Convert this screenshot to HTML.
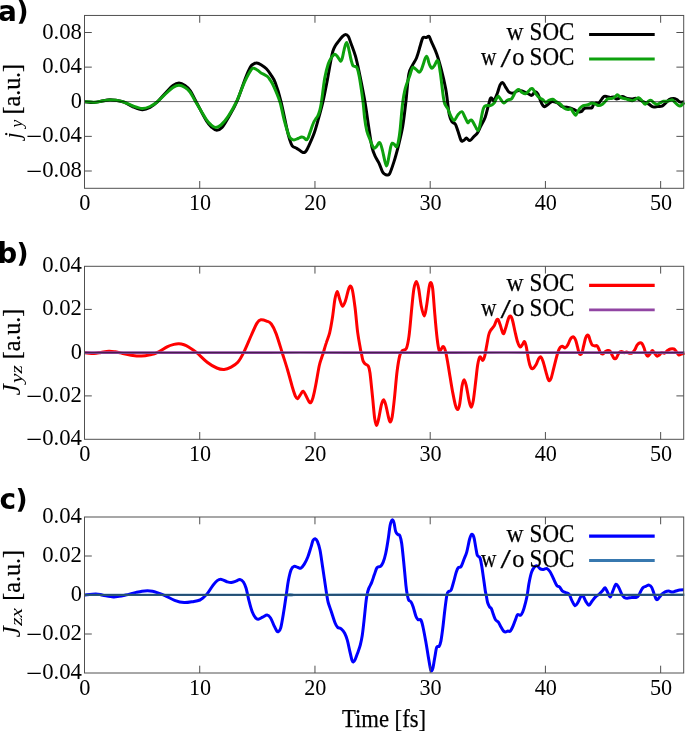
<!DOCTYPE html>
<html><head><meta charset="utf-8"><title>figure</title>
<style>
html,body{margin:0;padding:0;background:#fff;}
body{width:685px;height:731px;overflow:hidden;}
svg{display:block;font-family:"Liberation Serif","DejaVu Serif",serif;fill:#000;}
</style></head><body>
<svg width="685" height="731" viewBox="0 0 685 731">
<rect width="685" height="731" fill="#fff"/>
<g>
<clipPath id="cp1"><rect x="83.0" y="15.4" width="602.2" height="172.9"/></clipPath>
<g clip-path="url(#cp1)" fill="none" stroke-linejoin="round" stroke-linecap="butt">
<path d="M85.0 101.7C86.5 101.8 91.3 102.5 94.0 102.4C96.7 102.3 98.4 101.8 101.0 101.3C103.6 100.8 107.1 99.8 109.8 99.7C112.5 99.6 114.7 100.1 117.0 100.5C119.3 100.9 121.1 101.2 123.8 102.2C126.5 103.2 129.9 105.5 133.0 106.8C136.1 108.1 139.6 109.7 142.4 109.8C145.2 109.9 147.5 108.8 150.0 107.5C152.5 106.2 154.6 104.5 157.3 102.0C160.0 99.5 163.4 95.2 166.0 92.5C168.6 89.8 170.8 87.1 173.0 85.5C175.2 83.9 177.0 83.1 179.0 83.1C181.0 83.1 183.1 84.2 185.0 85.5C186.9 86.8 188.7 88.3 190.5 91.0C192.3 93.7 193.3 96.5 196.0 101.5C198.7 106.5 203.8 116.7 206.5 121.0C209.2 125.3 210.3 126.0 212.0 127.5C213.7 129.1 215.0 130.3 216.7 130.3C218.4 130.3 219.9 129.8 222.0 127.5C224.1 125.2 226.5 120.7 229.0 116.4C231.5 112.1 234.2 107.9 236.9 101.5C239.7 95.1 243.2 83.8 245.5 78.0C247.8 72.2 249.1 69.3 250.4 67.0C251.7 64.7 252.4 64.7 253.5 64.0C254.6 63.4 255.4 63.0 256.7 63.1C257.9 63.2 259.4 63.8 261.0 64.7C262.6 65.7 264.7 67.1 266.4 68.8C268.1 70.5 269.5 72.7 271.0 75.0C272.5 77.3 273.6 78.3 275.3 82.7C277.0 87.1 279.1 93.8 281.0 101.5C282.9 109.2 285.5 122.7 286.9 128.9C288.3 135.2 288.6 136.2 289.5 139.0C290.4 141.8 291.0 144.2 292.2 145.8C293.4 147.4 295.4 147.6 296.7 148.4C298.0 149.2 299.1 149.9 300.0 150.5C300.9 151.1 301.4 151.7 302.0 152.0C302.6 152.3 303.1 152.6 303.6 152.6C304.1 152.6 304.7 152.4 305.2 152.0C305.7 151.6 306.1 151.1 306.6 150.2C307.1 149.3 307.1 149.6 308.4 146.7C309.7 143.8 312.6 137.5 314.3 132.7C316.0 127.9 317.2 123.0 318.7 117.8C320.1 112.6 321.6 107.9 323.0 101.5C324.4 95.1 326.2 85.8 327.4 79.6C328.6 73.3 329.3 68.7 330.2 64.0C331.1 59.3 332.0 54.3 332.9 51.2C333.8 48.1 334.6 47.1 335.4 45.6C336.2 44.1 336.8 43.7 337.9 42.2C339.0 40.7 341.0 37.9 342.3 36.6C343.6 35.3 344.5 34.5 345.5 34.5C346.5 34.5 347.5 35.1 348.4 36.6C349.3 38.1 349.9 40.5 351.1 43.7C352.3 46.9 354.1 51.4 355.4 55.9C356.7 60.4 357.3 63.2 358.9 70.8C360.5 78.4 363.3 92.3 364.9 101.6C366.5 110.9 367.4 118.8 368.6 126.5C369.8 134.2 370.9 142.5 372.1 147.6C373.3 152.7 374.4 154.6 375.6 157.2C376.8 159.8 377.9 160.8 379.1 163.3C380.3 165.8 381.6 170.3 382.6 172.1C383.6 173.9 384.3 173.8 385.0 174.3C385.7 174.8 386.2 175.0 387.0 174.9C387.8 174.8 388.4 176.0 389.6 173.8C390.8 171.6 392.5 166.3 394.0 161.6C395.5 156.9 396.9 151.7 398.4 145.8C399.8 140.0 401.4 133.9 402.7 126.5C403.9 119.1 404.9 110.2 405.9 101.5C406.9 92.8 407.7 80.3 408.8 74.3C409.9 68.3 411.0 68.4 412.3 65.6C413.6 62.8 415.3 60.9 416.6 57.7C417.9 54.5 419.1 49.6 420.1 46.3C421.1 43.0 421.8 39.4 422.8 37.9C423.8 36.4 425.3 37.8 426.3 37.5C427.3 37.2 428.0 35.6 428.9 36.3C429.8 37.0 430.2 38.9 431.5 41.9C432.8 44.9 435.2 49.7 436.8 54.2C438.4 58.7 439.7 63.4 441.2 69.1C442.7 74.8 444.6 82.9 445.6 88.3C446.7 93.7 446.9 97.1 447.5 101.5C448.1 105.9 448.6 111.3 449.3 114.7C450.0 118.1 450.9 120.1 451.9 121.7C452.9 123.3 454.4 122.7 455.4 124.3C456.4 125.9 457.0 128.6 458.0 131.3C459.0 134.0 460.2 139.1 461.2 140.6C462.2 142.1 463.3 140.5 464.2 140.1C465.1 139.7 465.4 137.9 466.4 138.0C467.3 138.1 468.7 140.8 469.9 140.6C471.1 140.4 472.6 137.8 473.8 136.6C475.0 135.3 476.1 134.8 477.3 133.1C478.5 131.3 479.5 128.7 480.8 126.1C482.1 123.5 483.9 120.9 485.2 117.3C486.5 113.7 487.8 107.3 488.7 104.2C489.6 101.1 489.8 99.6 490.3 98.6C490.8 97.6 491.0 97.7 491.6 98.0C492.2 98.3 492.9 101.4 493.9 100.5C494.9 99.6 496.5 95.4 497.5 92.8C498.5 90.2 499.2 86.6 500.1 84.9C501.0 83.2 501.8 82.3 502.7 82.6C503.6 82.9 504.3 85.0 505.3 86.6C506.3 88.1 507.5 90.8 508.8 91.9C510.1 93.0 511.7 93.3 513.2 93.1C514.7 92.9 516.1 91.0 517.6 90.7C519.1 90.4 520.2 90.5 522.0 91.0C523.8 91.5 526.5 93.0 528.1 93.7C529.7 94.4 530.4 95.7 531.6 95.4C532.8 95.1 534.1 92.2 535.1 91.9C536.1 91.6 536.7 92.0 537.7 93.7C538.7 95.5 540.4 100.5 541.2 102.4C542.1 104.3 542.2 104.6 542.8 105.3C543.3 106.0 543.7 106.8 544.5 106.7C545.3 106.6 546.6 105.5 547.6 104.8C548.6 104.1 549.6 102.9 550.5 102.4C551.4 101.9 551.6 101.5 552.8 101.6C554.0 101.7 556.0 102.2 557.5 103.0C559.0 103.8 560.2 105.8 561.6 106.5C563.0 107.2 564.3 106.8 565.7 107.1C567.1 107.3 568.6 107.6 570.0 108.0C571.4 108.4 572.5 108.9 573.9 109.5C575.3 110.1 577.2 111.5 578.5 111.8C579.8 112.1 580.5 112.0 581.5 111.4C582.5 110.8 583.1 108.9 584.4 108.3C585.6 107.7 587.7 108.1 589.0 108.0C590.3 107.9 591.2 108.3 592.0 107.7C592.8 107.1 593.0 105.0 593.7 104.2C594.4 103.4 595.1 103.2 596.0 103.0C596.9 102.8 598.0 103.7 599.0 103.0C600.0 102.3 601.0 100.0 601.9 98.9C602.8 97.8 603.3 96.8 604.2 96.4C605.1 96.0 606.2 96.4 607.2 96.6C608.2 96.8 608.9 97.3 610.0 97.4C611.1 97.5 612.6 96.8 613.6 97.0C614.6 97.2 615.2 98.7 616.1 98.9C617.0 99.1 617.9 98.8 619.0 98.4C620.1 98.0 621.1 96.6 622.5 96.6C623.9 96.6 625.6 98.0 627.2 98.4C628.8 98.8 630.4 98.9 631.9 98.9C633.4 98.9 634.6 97.9 636.5 98.4C638.4 98.9 641.5 100.9 643.5 101.9C645.5 102.9 647.2 103.4 648.8 104.2C650.4 105.0 651.4 106.5 652.9 106.9C654.4 107.3 656.0 106.7 657.6 106.5C659.2 106.3 660.9 106.6 662.2 106.0C663.6 105.4 664.5 104.1 665.7 103.0C666.9 101.9 667.9 100.3 669.2 99.5C670.5 98.7 672.0 98.4 673.3 98.4C674.6 98.4 675.7 98.9 676.8 99.5C677.9 100.1 678.7 101.5 679.7 101.9C680.7 102.3 682.0 102.1 682.7 102.1C683.5 102.1 684.0 101.8 684.2 101.8" stroke="#000000" stroke-width="3.0"/>
<path d="M85.0 101.7C86.5 101.8 91.3 102.4 94.0 102.3C96.7 102.2 98.4 101.7 101.0 101.3C103.6 100.9 107.1 100.0 109.8 99.9C112.5 99.8 114.7 100.2 117.0 100.5C119.3 100.8 121.1 101.1 123.8 102.0C126.5 102.9 129.9 104.9 133.0 106.0C136.1 107.1 139.4 108.4 142.2 108.5C145.0 108.6 147.5 107.6 150.0 106.5C152.5 105.4 154.4 104.2 157.1 102.0C159.8 99.8 163.3 95.9 166.0 93.5C168.7 91.1 170.8 88.9 173.0 87.5C175.2 86.1 177.0 85.3 179.0 85.3C181.0 85.3 183.2 86.4 185.0 87.5C186.8 88.6 188.2 89.7 190.0 92.0C191.8 94.3 192.8 97.0 195.5 101.5C198.2 106.0 203.4 115.2 206.0 119.1C208.6 123.0 209.4 123.4 211.0 124.8C212.6 126.2 214.1 127.4 215.8 127.4C217.5 127.4 218.9 126.8 221.0 125.0C223.1 123.2 225.6 120.3 228.2 116.4C230.8 112.5 233.8 107.4 236.6 101.5C239.4 95.6 242.6 86.2 245.1 80.9C247.6 75.6 249.8 71.7 251.3 69.6C252.9 67.5 253.3 68.2 254.4 68.4C255.5 68.6 256.9 69.8 258.0 70.5C259.1 71.2 259.6 71.9 261.1 72.9C262.7 73.9 265.7 75.1 267.3 76.4C268.9 77.7 269.4 78.9 270.5 80.5C271.6 82.1 272.1 82.7 273.6 86.2C275.2 89.7 278.0 95.9 279.8 101.5C281.6 107.1 282.7 114.4 284.2 120.0C285.7 125.6 287.6 132.0 288.7 135.1C289.8 138.2 290.1 137.8 291.0 138.6C291.9 139.4 292.8 139.9 294.0 139.9C295.2 139.9 296.7 139.0 298.0 138.5C299.3 138.0 300.6 137.0 301.6 136.9C302.6 136.8 303.2 137.3 304.0 137.8C304.8 138.3 305.7 139.9 306.4 139.8C307.1 139.8 307.7 138.7 308.3 137.5C308.9 136.3 309.0 135.1 309.9 132.7C310.8 130.3 312.4 125.3 313.4 123.0C314.4 120.7 315.0 120.2 315.7 119.0C316.4 117.8 317.1 117.3 317.8 116.0C318.5 114.7 319.0 113.2 319.6 111.0C320.2 108.8 320.5 108.0 321.4 102.5C322.3 97.0 323.6 84.2 324.8 77.8C326.0 71.3 327.2 67.2 328.3 63.8C329.4 60.4 330.4 59.1 331.5 57.5C332.6 55.9 333.8 54.3 334.9 54.2C335.9 54.1 336.9 55.8 337.8 57.0C338.8 58.2 339.9 61.0 340.6 61.2C341.4 61.4 341.7 59.9 342.3 58.0C342.9 56.1 343.4 52.4 344.1 49.8C344.8 47.2 345.8 42.1 346.7 42.4C347.6 42.7 348.6 48.6 349.3 51.5C350.0 54.4 350.4 57.2 351.0 59.5C351.6 61.8 352.2 64.4 352.8 65.5C353.4 66.6 354.2 66.0 354.8 66.3C355.4 66.6 356.1 66.4 356.7 67.3C357.3 68.2 357.7 69.5 358.2 71.5C358.7 73.5 359.0 74.6 359.8 79.6C360.6 84.6 362.2 95.2 363.0 101.6C363.8 108.0 364.0 112.9 364.6 117.8C365.2 122.7 365.9 127.1 366.8 130.9C367.8 134.7 369.4 138.1 370.3 140.5C371.2 142.9 371.7 144.2 372.3 145.5C372.9 146.8 373.5 148.0 374.2 148.2C374.9 148.4 375.7 147.4 376.5 146.5C377.3 145.6 378.4 143.0 379.1 142.7C379.8 142.4 380.2 143.1 380.8 144.5C381.4 145.9 381.9 148.2 382.6 151.0C383.3 153.8 384.2 158.5 384.8 161.0C385.4 163.5 386.0 165.9 386.5 166.0C387.0 166.1 387.5 163.7 388.0 161.5C388.5 159.3 389.1 155.3 389.6 152.8C390.1 150.3 390.4 148.1 390.8 146.5C391.2 144.9 391.6 143.5 392.2 143.2C392.8 142.9 393.7 143.9 394.4 144.5C395.1 145.1 396.0 147.1 396.6 146.7C397.2 146.3 397.7 144.8 398.3 142.0C398.9 139.2 399.4 136.4 400.1 130.0C400.8 123.6 401.7 110.5 402.6 103.5C403.5 96.5 404.1 92.9 405.3 88.3C406.5 83.7 408.6 79.1 409.6 76.1C410.6 73.1 410.9 71.8 411.5 70.3C412.1 68.8 412.4 67.5 413.1 67.3C413.9 67.1 415.0 68.5 416.0 69.3C417.0 70.1 418.4 72.2 419.3 72.2C420.2 72.2 420.8 70.8 421.5 69.3C422.2 67.8 423.1 64.8 423.7 62.9C424.3 61.0 424.8 59.1 425.3 58.0C425.8 56.9 426.2 56.2 426.6 56.3C427.0 56.4 427.4 57.4 427.8 58.5C428.2 59.6 428.5 61.6 428.9 62.9C429.3 64.2 429.8 65.4 430.3 66.3C430.8 67.2 431.2 68.3 431.9 68.2C432.6 68.1 433.5 66.9 434.4 65.6C435.3 64.3 436.4 61.0 437.1 60.6C437.8 60.2 438.3 61.5 438.8 63.5C439.3 65.5 439.7 68.5 440.3 72.6C440.9 76.7 441.7 83.8 442.2 88.0C442.7 92.2 443.1 95.3 443.5 98.0C443.9 100.7 444.2 102.6 444.9 104.3C445.6 106.0 446.5 106.2 447.5 108.2C448.5 110.2 449.9 114.4 451.0 116.4C452.1 118.5 453.0 120.8 454.2 120.5C455.4 120.2 456.7 116.2 458.0 114.7C459.3 113.2 460.7 111.3 461.9 111.7C463.1 112.1 464.0 115.5 465.0 117.3C466.0 119.1 466.9 122.0 467.7 122.6C468.4 123.2 468.9 121.5 469.5 121.0C470.1 120.5 470.6 119.8 471.2 119.9C471.8 120.0 472.2 120.7 472.8 121.6C473.4 122.5 474.1 124.0 474.7 125.2C475.3 126.4 476.0 127.9 476.6 128.8C477.2 129.7 477.7 130.7 478.2 130.4C478.7 130.1 479.1 128.6 479.5 127.0C479.9 125.4 480.2 123.9 480.8 120.8C481.4 117.7 482.5 111.0 483.4 108.5C484.3 106.0 484.9 106.1 486.1 105.6C487.3 105.1 489.1 106.0 490.4 105.6C491.7 105.2 492.9 104.4 493.9 103.3C494.9 102.2 495.5 100.2 496.2 99.0C496.9 97.8 497.5 96.2 498.3 96.3C499.1 96.4 500.1 98.7 501.0 99.8C501.9 100.9 502.8 102.6 503.6 102.9C504.4 103.2 505.1 102.1 505.8 101.6C506.5 101.1 507.1 100.2 508.0 99.8C508.9 99.3 510.3 100.1 511.5 98.9C512.7 97.7 514.1 94.2 515.0 92.8C515.9 91.4 516.2 91.0 516.8 90.5C517.4 90.0 517.9 89.6 518.5 89.6C519.1 89.6 519.7 90.1 520.3 90.6C520.9 91.1 521.1 91.9 522.0 92.4C522.9 92.9 524.3 94.0 525.5 93.7C526.7 93.4 528.1 91.5 529.0 90.7C529.9 89.9 530.1 89.4 530.6 89.0C531.1 88.6 531.5 88.3 532.0 88.4C532.5 88.5 533.0 89.1 533.5 89.8C534.0 90.5 534.2 91.6 535.1 92.8C536.0 94.0 537.4 96.1 538.6 97.2C539.8 98.3 541.3 98.6 542.5 99.5C543.7 100.4 544.7 102.3 545.8 102.4C546.9 102.5 548.1 100.6 549.3 100.1C550.5 99.6 551.6 98.9 552.8 99.2C554.0 99.5 555.1 101.1 556.4 101.9C557.7 102.7 559.0 103.1 560.4 104.2C561.8 105.3 563.2 107.4 564.5 108.3C565.8 109.2 566.9 109.4 568.0 109.5C569.1 109.6 570.1 108.4 571.0 108.9C571.9 109.4 572.5 111.3 573.3 112.4C574.1 113.5 574.8 115.5 575.6 115.3C576.4 115.1 577.2 112.5 578.0 111.2C578.8 109.9 579.4 108.6 580.3 107.7C581.2 106.8 581.9 106.1 583.2 105.6C584.5 105.1 586.4 105.2 587.9 104.8C589.4 104.4 590.7 103.1 592.0 103.0C593.3 102.9 594.3 103.8 595.5 104.2C596.7 104.6 597.8 105.6 599.0 105.6C600.2 105.6 601.4 104.9 602.5 104.2C603.6 103.5 604.5 102.2 605.4 101.3C606.3 100.4 606.5 99.4 607.7 98.9C608.9 98.4 611.1 98.8 612.4 98.4C613.7 98.0 614.4 97.2 615.3 96.6C616.1 96.0 616.7 94.8 617.5 94.8C618.3 94.8 619.2 96.3 620.0 96.8C620.8 97.3 621.0 97.7 622.0 98.0C623.0 98.3 624.3 98.5 626.0 98.9C627.7 99.4 630.7 100.7 632.4 100.7C634.1 100.7 634.9 99.5 636.0 99.0C637.1 98.5 637.8 97.4 638.9 97.8C640.0 98.2 641.3 100.2 642.4 101.3C643.5 102.4 644.2 104.3 645.3 104.2C646.4 104.1 647.8 101.6 648.8 100.9C649.8 100.2 650.2 100.0 651.1 100.3C652.0 100.6 653.1 102.3 654.1 103.0C655.1 103.7 656.0 104.2 657.0 104.2C658.0 104.2 658.8 103.5 659.9 103.0C661.0 102.5 662.1 101.6 663.4 101.3C664.7 101.0 666.3 101.5 667.5 101.3C668.7 101.1 669.6 100.5 670.5 100.3C671.4 100.1 671.8 99.5 672.7 100.1C673.7 100.6 675.0 102.6 676.2 103.6C677.4 104.6 678.6 105.9 679.7 106.0C680.8 106.1 682.0 104.8 682.7 104.2C683.5 103.6 684.0 102.7 684.2 102.4" stroke="#0ea10e" stroke-width="3.0"/>
</g>
<line x1="84.5" y1="101.60" x2="683.7" y2="101.60" stroke="#000" stroke-opacity="0.62" stroke-width="1"/>
<rect x="84.50" y="15.45" width="599.20" height="172.85" fill="none" stroke="#505050" stroke-width="1"/>
<path d="M84.50 32.50h7.3M683.70 32.50h-7.3" stroke="#505050" stroke-width="1" fill="none"/>
<path d="M84.50 67.13h7.3M683.70 67.13h-7.3" stroke="#505050" stroke-width="1" fill="none"/>
<path d="M84.50 136.37h7.3M683.70 136.37h-7.3" stroke="#505050" stroke-width="1" fill="none"/>
<path d="M84.50 171.00h7.3M683.70 171.00h-7.3" stroke="#505050" stroke-width="1" fill="none"/>
<text x="84.90" y="209.90" font-size="22.8" text-anchor="middle" textLength="11.2" lengthAdjust="spacingAndGlyphs">0</text>
<path d="M199.73 188.30v-7.3M199.73 15.45v7.3" stroke="#505050" stroke-width="1" fill="none"/>
<text x="200.13" y="209.90" font-size="22.8" text-anchor="middle" textLength="22.2" lengthAdjust="spacingAndGlyphs">10</text>
<path d="M314.96 188.30v-7.3M314.96 15.45v7.3" stroke="#505050" stroke-width="1" fill="none"/>
<text x="315.36" y="209.90" font-size="22.8" text-anchor="middle" textLength="22.2" lengthAdjust="spacingAndGlyphs">20</text>
<path d="M430.19 188.30v-7.3M430.19 15.45v7.3" stroke="#505050" stroke-width="1" fill="none"/>
<text x="430.59" y="209.90" font-size="22.8" text-anchor="middle" textLength="22.2" lengthAdjust="spacingAndGlyphs">30</text>
<path d="M545.42 188.30v-7.3M545.42 15.45v7.3" stroke="#505050" stroke-width="1" fill="none"/>
<text x="545.82" y="209.90" font-size="22.8" text-anchor="middle" textLength="22.2" lengthAdjust="spacingAndGlyphs">40</text>
<path d="M660.65 188.30v-7.3M660.65 15.45v7.3" stroke="#505050" stroke-width="1" fill="none"/>
<text x="661.05" y="209.90" font-size="22.8" text-anchor="middle" textLength="22.2" lengthAdjust="spacingAndGlyphs">50</text>
<text x="82.00" y="38.50" font-size="22.8" text-anchor="end" textLength="39.8" lengthAdjust="spacingAndGlyphs">0.08</text>
<text x="82.00" y="73.13" font-size="22.8" text-anchor="end" textLength="39.8" lengthAdjust="spacingAndGlyphs">0.04</text>
<text x="82.00" y="107.75" font-size="22.8" text-anchor="end" textLength="11.2" lengthAdjust="spacingAndGlyphs">0</text>
<text x="82.00" y="142.37" font-size="22.8" text-anchor="end" textLength="39.8" lengthAdjust="spacingAndGlyphs">0.04</text>
<text x="26.20" y="144.97" font-size="26" textLength="16.2" lengthAdjust="spacingAndGlyphs">−</text>
<text x="82.00" y="177.00" font-size="22.8" text-anchor="end" textLength="39.8" lengthAdjust="spacingAndGlyphs">0.08</text>
<text x="26.20" y="179.60" font-size="26" textLength="16.2" lengthAdjust="spacingAndGlyphs">−</text>
<text transform="translate(20.20 138.60) rotate(-90)" font-size="22.5" font-style="italic">j</text>
<text transform="translate(21.60 127.40) rotate(-90)" font-size="17.5" font-style="italic">y</text>
<text transform="translate(20.40 114.50) rotate(-90)" font-size="25" textLength="50.6" lengthAdjust="spacingAndGlyphs" stroke="#000" stroke-width="0.25">[a.u.]</text>
<text x="506.60" y="40.25" font-size="25.4" textLength="17.0" lengthAdjust="spacingAndGlyphs" stroke="#000" stroke-width="0.25">w</text>
<text x="529.60" y="40.25" font-size="25.2" textLength="44.8" lengthAdjust="spacingAndGlyphs" stroke="#000" stroke-width="0.25">SOC</text>
<text x="480.90" y="64.95" font-size="25.4" textLength="15.4" lengthAdjust="spacingAndGlyphs" stroke="#000" stroke-width="0.25">w</text>
<text x="500.40" y="66.75" font-size="27" textLength="10.4" lengthAdjust="spacingAndGlyphs" stroke="#000" stroke-width="0.25">/</text>
<text x="512.20" y="64.95" font-size="25.4" textLength="12.2" lengthAdjust="spacingAndGlyphs" stroke="#000" stroke-width="0.25">o</text>
<text x="529.60" y="64.95" font-size="25.2" textLength="44.8" lengthAdjust="spacingAndGlyphs" stroke="#000" stroke-width="0.25">SOC</text>
<line x1="589.1" y1="34.5" x2="654.7" y2="34.5" stroke="#000000" stroke-width="3.1"/>
<line x1="589.1" y1="59.0" x2="654.7" y2="59.0" stroke="#0ea10e" stroke-width="2.8"/>
<text font-family="'DejaVu Sans','Liberation Sans',sans-serif" font-weight="bold"><tspan x="-2.00" y="20.90" font-size="28">a</tspan><tspan x="16.50" y="20.00" font-size="26.4">)</tspan></text>
</g>
<g>
<clipPath id="cp2"><rect x="83.0" y="266.3" width="602.2" height="173.0"/></clipPath>
<g clip-path="url(#cp2)" fill="none" stroke-linejoin="round" stroke-linecap="butt">
<path d="M84.9 352.7C86.4 352.8 91.3 353.4 94.0 353.4C96.7 353.3 98.5 352.8 101.0 352.4C103.5 352.0 106.6 351.3 108.9 351.2C111.2 351.1 113.1 351.5 115.0 351.8C116.9 352.1 117.6 352.3 120.3 352.9C123.0 353.5 127.5 354.7 131.0 355.2C134.5 355.7 138.1 356.2 141.3 356.1C144.5 356.0 147.4 355.4 150.0 354.8C152.6 354.2 154.2 354.0 157.1 352.6C160.0 351.2 164.8 348.0 167.6 346.6C170.4 345.2 172.1 344.9 174.0 344.4C175.9 343.9 177.3 343.7 179.0 343.8C180.7 343.9 182.4 344.3 184.0 344.8C185.6 345.3 186.5 345.7 188.6 347.0C190.7 348.3 193.6 350.1 196.7 352.7C199.8 355.2 203.8 359.8 207.2 362.3C210.5 364.9 214.0 366.8 216.8 368.0C219.6 369.2 221.7 369.5 224.1 369.4C226.5 369.2 228.8 368.3 231.1 367.1C233.4 365.9 235.7 364.7 237.8 362.3C239.9 359.9 241.4 357.2 243.6 352.7C245.8 348.2 249.0 340.4 251.2 335.5C253.4 330.6 255.4 325.7 257.0 323.1C258.6 320.5 259.2 320.1 260.8 319.8C262.4 319.5 264.9 320.4 266.6 321.1C268.4 321.8 269.7 321.9 271.3 324.0C272.9 326.1 274.3 328.8 276.1 333.6C277.9 338.4 280.3 346.6 282.2 352.7C284.1 358.8 285.9 364.2 287.6 370.0C289.3 375.8 291.1 382.8 292.4 387.2C293.7 391.6 294.6 394.4 295.5 396.3C296.4 398.2 296.8 399.0 297.7 398.6C298.6 398.2 299.9 395.3 300.8 394.1C301.7 392.9 302.3 390.9 303.2 391.2C304.1 391.5 305.1 394.1 306.0 395.8C306.9 397.5 307.9 400.0 308.7 401.1C309.5 402.2 310.1 403.1 310.8 402.5C311.5 401.9 312.2 400.5 313.0 397.6C313.8 394.7 314.7 390.6 315.7 385.3C316.7 380.0 318.2 370.7 319.2 366.0C320.2 361.3 321.1 359.6 321.8 357.3C322.5 355.1 322.7 354.9 323.4 352.5C324.1 350.1 325.1 346.4 326.2 343.1C327.2 339.8 328.7 336.7 329.7 332.6C330.7 328.5 331.4 324.2 332.3 318.6C333.2 313.1 334.1 303.8 334.9 299.3C335.7 294.8 336.4 291.4 337.2 291.4C338.0 291.4 338.8 296.8 339.7 299.3C340.6 301.8 341.6 306.0 342.5 306.3C343.4 306.6 344.4 303.8 345.4 301.0C346.4 298.2 347.6 292.2 348.4 289.7C349.2 287.2 349.6 286.0 350.3 286.1C351.0 286.2 351.7 286.9 352.5 290.5C353.3 294.1 354.2 301.0 355.1 308.0C356.0 315.0 356.8 325.9 357.7 332.6C358.6 339.3 359.7 344.8 360.3 348.3C360.9 351.8 361.1 351.7 361.5 353.8C361.9 355.9 362.4 359.1 363.0 360.8C363.6 362.5 364.3 363.0 365.2 363.9C366.1 364.8 367.4 364.5 368.2 366.0C369.0 367.5 369.3 367.7 370.0 373.0C370.7 378.3 371.8 390.0 372.6 397.6C373.4 405.2 374.0 413.9 374.7 418.6C375.4 423.3 375.9 425.6 376.6 425.6C377.3 425.6 377.9 422.1 378.7 418.6C379.5 415.1 380.6 407.8 381.4 404.6C382.2 401.5 382.9 399.7 383.6 399.7C384.3 399.7 384.9 401.8 385.7 404.6C386.5 407.5 387.7 413.9 388.4 416.8C389.1 419.7 389.5 422.1 390.1 422.1C390.7 422.1 391.5 420.9 392.2 416.8C392.9 412.7 393.7 405.2 394.5 397.6C395.3 390.0 396.2 378.3 397.1 371.3C398.0 364.3 398.9 358.9 399.8 355.5C400.7 352.1 401.3 351.8 402.4 350.6C403.5 349.4 405.3 350.7 406.4 348.3C407.5 345.9 408.1 342.5 409.0 336.1C409.9 329.7 410.8 317.7 411.6 309.8C412.4 301.9 413.1 293.5 413.9 288.8C414.7 284.1 415.6 281.4 416.4 281.4C417.2 281.4 417.9 284.6 418.7 288.8C419.5 293.0 420.4 301.8 421.3 306.3C422.2 310.8 423.4 315.9 424.3 315.9C425.2 315.9 425.7 311.1 426.5 306.3C427.3 301.5 428.5 290.9 429.2 287.0C429.9 283.1 430.3 282.3 430.9 282.6C431.5 282.9 432.0 283.4 432.7 288.8C433.4 294.2 434.1 306.7 434.9 315.1C435.6 323.5 436.5 333.1 437.2 339.0C437.9 344.9 438.5 348.4 439.1 350.2C439.7 352.0 440.2 350.2 440.9 349.6C441.6 349.0 442.4 346.3 443.1 346.5C443.9 346.7 444.7 348.3 445.4 350.8C446.1 353.3 446.7 356.9 447.5 361.3C448.3 365.7 449.2 371.8 450.1 377.1C451.0 382.4 451.9 388.2 452.8 392.9C453.7 397.6 454.6 402.3 455.4 405.1C456.2 407.9 457.0 409.8 457.7 409.5C458.4 409.2 459.1 407.3 459.8 403.4C460.5 399.4 461.4 389.8 462.1 385.8C462.8 381.9 463.5 379.7 464.2 379.7C464.9 379.7 465.5 382.4 466.3 385.8C467.1 389.2 468.1 396.3 468.9 399.9C469.7 403.5 470.4 407.2 471.2 407.2C471.9 407.2 472.7 404.0 473.4 399.9C474.1 395.8 474.9 388.1 475.6 382.3C476.3 376.5 477.0 369.0 477.7 364.8C478.4 360.6 479.1 357.6 479.9 356.9C480.7 356.2 481.8 360.5 482.6 360.4C483.4 360.3 484.1 358.3 484.7 356.1C485.3 353.9 485.7 350.8 486.4 347.3C487.1 343.8 488.0 337.8 488.7 335.0C489.4 332.2 489.5 332.1 490.4 330.7C491.3 329.2 492.9 327.9 493.9 326.3C494.9 324.7 495.5 322.2 496.2 321.0C496.9 319.8 497.4 318.7 498.0 319.3C498.6 319.9 499.2 322.1 500.1 324.5C501.0 326.9 502.3 333.0 503.2 333.6C504.1 334.2 504.8 330.5 505.7 328.0C506.6 325.5 507.7 320.4 508.5 318.4C509.3 316.4 509.9 315.7 510.6 316.1C511.3 316.5 512.0 318.4 512.7 321.0C513.4 323.6 514.2 328.0 515.0 331.5C515.8 335.0 516.7 339.4 517.6 342.0C518.5 344.6 519.3 346.7 520.2 347.0C521.1 347.3 522.2 344.7 522.9 343.8C523.6 342.9 524.0 341.1 524.6 341.7C525.2 342.3 525.8 344.3 526.4 347.3C527.0 350.3 527.8 356.2 528.5 359.6C529.2 363.0 530.0 365.9 530.7 367.4C531.4 368.9 531.9 369.1 532.8 368.7C533.7 368.3 535.0 366.5 536.0 364.8C537.0 363.1 537.8 360.0 538.6 358.7C539.4 357.4 540.0 356.5 540.7 356.9C541.4 357.3 542.1 358.6 543.0 361.3C543.9 364.0 545.4 369.9 546.2 372.8C547.0 375.7 547.5 377.6 548.0 378.9C548.5 380.2 549.0 380.9 549.5 380.8C550.0 380.7 550.4 380.2 551.1 378.3C551.8 376.4 552.7 372.3 553.5 369.1C554.3 365.9 555.2 362.3 556.0 359.2C556.8 356.1 557.8 352.6 558.5 350.6C559.2 348.6 559.7 348.0 560.3 347.3C560.9 346.6 561.4 346.2 562.2 346.3C563.0 346.4 564.3 348.1 565.2 347.9C566.1 347.7 566.9 346.5 567.7 345.1C568.5 343.7 569.5 340.8 570.2 339.5C570.9 338.2 571.4 337.7 572.0 337.3C572.6 336.9 573.2 336.6 573.8 337.1C574.4 337.6 575.1 338.6 575.7 340.2C576.3 341.8 576.9 344.8 577.5 346.9C578.1 349.0 578.6 351.8 579.1 353.1C579.6 354.4 580.1 354.7 580.6 354.6C581.1 354.5 581.6 354.0 582.1 352.5C582.6 351.0 583.1 348.1 583.7 345.7C584.3 343.3 584.9 340.1 585.5 338.3C586.1 336.6 586.8 335.5 587.4 335.2C588.0 334.9 588.4 335.5 588.9 336.5C589.4 337.5 589.9 340.0 590.5 341.4C591.1 342.8 591.6 344.4 592.3 345.1C593.0 345.9 594.0 345.8 594.8 345.9C595.6 346.0 596.3 345.3 596.9 345.7C597.5 346.1 597.9 347.1 598.5 348.2C599.1 349.3 599.6 351.5 600.3 352.5C601.0 353.5 602.0 354.2 602.8 354.1C603.6 354.0 604.4 352.4 605.2 351.8C606.0 351.2 606.9 350.7 607.7 350.6C608.5 350.5 609.5 350.5 610.2 351.2C610.9 351.9 611.4 353.7 612.0 354.9C612.6 356.1 613.3 357.5 613.8 358.2C614.3 358.9 614.6 358.9 615.1 358.8C615.6 358.7 616.1 358.4 616.7 357.4C617.4 356.4 618.2 353.7 619.0 352.7C619.8 351.7 620.5 351.5 621.4 351.5C622.3 351.5 623.4 352.6 624.3 352.7C625.2 352.8 625.7 352.0 626.6 352.1C627.5 352.2 628.5 353.2 629.5 353.3C630.5 353.4 631.5 353.3 632.4 352.7C633.3 352.1 634.0 351.1 634.8 349.8C635.6 348.5 636.3 346.2 637.1 345.1C637.9 344.0 638.7 343.3 639.5 343.0C640.3 342.7 641.0 342.6 641.8 343.4C642.6 344.2 643.4 346.2 644.1 348.0C644.8 349.8 645.2 352.5 645.9 353.9C646.5 355.3 647.3 356.2 648.0 356.2C648.7 356.2 649.3 354.8 650.0 353.9C650.7 353.0 651.5 350.7 652.3 350.6C653.1 350.5 653.8 352.4 654.6 353.3C655.4 354.2 656.2 355.9 657.0 356.2C657.8 356.5 658.5 355.6 659.3 355.0C660.1 354.4 660.7 353.0 661.6 352.7C662.5 352.4 663.6 353.5 664.6 353.1C665.6 352.8 666.5 351.3 667.5 350.6C668.5 349.9 669.3 349.3 670.4 349.0C671.5 348.7 672.9 348.6 673.9 349.0C674.9 349.4 675.4 350.5 676.2 351.5C677.0 352.5 677.7 354.4 678.6 354.8C679.5 355.2 680.5 354.4 681.5 354.1C682.5 353.8 683.9 353.3 684.4 353.1" stroke="#ff0000" stroke-width="3.0"/>
<path d="M84.9 352.6C104.1 352.6 164.2 352.6 200.0 352.6C235.8 352.6 266.7 352.5 300.0 352.5C333.3 352.5 366.7 352.6 400.0 352.6C433.3 352.6 466.7 352.5 500.0 352.5C533.3 352.5 569.3 352.6 600.0 352.6C630.7 352.6 670.3 352.6 684.4 352.6" stroke="#9145a3" stroke-width="2.7"/>
</g>
<line x1="84.5" y1="352.65" x2="683.7" y2="352.65" stroke="#000" stroke-opacity="0.62" stroke-width="1"/>
<rect x="84.50" y="266.30" width="599.20" height="173.00" fill="none" stroke="#505050" stroke-width="1"/>
<path d="M84.50 309.40h7.3M683.70 309.40h-7.3" stroke="#505050" stroke-width="1" fill="none"/>
<path d="M84.50 395.90h7.3M683.70 395.90h-7.3" stroke="#505050" stroke-width="1" fill="none"/>
<text x="84.90" y="460.90" font-size="22.8" text-anchor="middle" textLength="11.2" lengthAdjust="spacingAndGlyphs">0</text>
<path d="M199.73 439.30v-7.3M199.73 266.30v7.3" stroke="#505050" stroke-width="1" fill="none"/>
<text x="200.13" y="460.90" font-size="22.8" text-anchor="middle" textLength="22.2" lengthAdjust="spacingAndGlyphs">10</text>
<path d="M314.96 439.30v-7.3M314.96 266.30v7.3" stroke="#505050" stroke-width="1" fill="none"/>
<text x="315.36" y="460.90" font-size="22.8" text-anchor="middle" textLength="22.2" lengthAdjust="spacingAndGlyphs">20</text>
<path d="M430.19 439.30v-7.3M430.19 266.30v7.3" stroke="#505050" stroke-width="1" fill="none"/>
<text x="430.59" y="460.90" font-size="22.8" text-anchor="middle" textLength="22.2" lengthAdjust="spacingAndGlyphs">30</text>
<path d="M545.42 439.30v-7.3M545.42 266.30v7.3" stroke="#505050" stroke-width="1" fill="none"/>
<text x="545.82" y="460.90" font-size="22.8" text-anchor="middle" textLength="22.2" lengthAdjust="spacingAndGlyphs">40</text>
<path d="M660.65 439.30v-7.3M660.65 266.30v7.3" stroke="#505050" stroke-width="1" fill="none"/>
<text x="661.05" y="460.90" font-size="22.8" text-anchor="middle" textLength="22.2" lengthAdjust="spacingAndGlyphs">50</text>
<text x="82.00" y="272.15" font-size="22.8" text-anchor="end" textLength="39.8" lengthAdjust="spacingAndGlyphs">0.04</text>
<text x="82.00" y="315.40" font-size="22.8" text-anchor="end" textLength="39.8" lengthAdjust="spacingAndGlyphs">0.02</text>
<text x="82.00" y="358.65" font-size="22.8" text-anchor="end" textLength="11.2" lengthAdjust="spacingAndGlyphs">0</text>
<text x="82.00" y="401.90" font-size="22.8" text-anchor="end" textLength="39.8" lengthAdjust="spacingAndGlyphs">0.02</text>
<text x="26.20" y="404.50" font-size="26" textLength="16.2" lengthAdjust="spacingAndGlyphs">−</text>
<text x="82.00" y="445.15" font-size="22.8" text-anchor="end" textLength="39.8" lengthAdjust="spacingAndGlyphs">0.04</text>
<text x="26.20" y="447.75" font-size="26" textLength="16.2" lengthAdjust="spacingAndGlyphs">−</text>
<text transform="translate(20.20 395.40) rotate(-90)" font-size="25.8" font-style="italic">J</text>
<text transform="translate(21.60 383.00) rotate(-90)" font-size="17.5" textLength="17.8" lengthAdjust="spacingAndGlyphs" font-style="italic">yz</text>
<text transform="translate(20.40 359.30) rotate(-90)" font-size="25" textLength="50.6" lengthAdjust="spacingAndGlyphs" stroke="#000" stroke-width="0.25">[a.u.]</text>
<text x="506.60" y="291.10" font-size="25.4" textLength="17.0" lengthAdjust="spacingAndGlyphs" stroke="#000" stroke-width="0.25">w</text>
<text x="529.60" y="291.10" font-size="25.2" textLength="44.8" lengthAdjust="spacingAndGlyphs" stroke="#000" stroke-width="0.25">SOC</text>
<text x="480.90" y="315.80" font-size="25.4" textLength="15.4" lengthAdjust="spacingAndGlyphs" stroke="#000" stroke-width="0.25">w</text>
<text x="500.40" y="317.60" font-size="27" textLength="10.4" lengthAdjust="spacingAndGlyphs" stroke="#000" stroke-width="0.25">/</text>
<text x="512.20" y="315.80" font-size="25.4" textLength="12.2" lengthAdjust="spacingAndGlyphs" stroke="#000" stroke-width="0.25">o</text>
<text x="529.60" y="315.80" font-size="25.2" textLength="44.8" lengthAdjust="spacingAndGlyphs" stroke="#000" stroke-width="0.25">SOC</text>
<line x1="589.1" y1="285.4" x2="654.7" y2="285.4" stroke="#ff0000" stroke-width="3.1"/>
<line x1="589.1" y1="309.8" x2="654.7" y2="309.8" stroke="#9145a3" stroke-width="2.8"/>
<text font-family="'DejaVu Sans','Liberation Sans',sans-serif" font-weight="bold"><tspan x="-2.40" y="262.80" font-size="27.5">b</tspan><tspan x="16.50" y="261.80" font-size="26.4">)</tspan></text>
</g>
<g>
<clipPath id="cp3"><rect x="83.0" y="517.0" width="602.2" height="156.0"/></clipPath>
<g clip-path="url(#cp3)" fill="none" stroke-linejoin="round" stroke-linecap="butt">
<path d="M84.9 595.0C86.7 594.8 92.8 593.9 95.8 593.9C98.8 593.9 99.9 594.7 102.8 595.2C105.7 595.7 110.6 596.8 113.3 597.0C116.0 597.2 117.0 596.6 119.0 596.3C121.0 596.0 122.8 595.6 125.6 595.0C128.4 594.4 133.4 593.0 136.1 592.4C138.8 591.8 140.1 591.5 142.0 591.2C143.9 590.9 145.8 590.8 147.5 590.8C149.2 590.8 150.9 591.0 152.5 591.3C154.1 591.6 155.0 591.9 157.1 592.6C159.2 593.3 162.1 594.3 165.0 595.6C167.9 596.9 171.4 599.1 174.6 600.3C177.8 601.5 181.0 602.4 184.2 602.6C187.4 602.8 191.3 601.8 193.9 601.4C196.5 601.0 198.5 600.6 200.0 600.0C201.5 599.4 201.8 598.9 203.1 597.8C204.3 596.7 205.9 595.4 207.5 593.4C209.1 591.4 211.2 587.7 212.8 585.6C214.4 583.5 215.8 581.6 217.2 580.6C218.6 579.6 219.9 579.2 221.5 579.4C223.1 579.6 225.2 581.2 226.8 581.7C228.4 582.2 229.7 582.7 231.2 582.6C232.7 582.5 234.4 581.7 235.9 581.2C237.4 580.7 238.7 579.3 239.9 579.4C241.2 579.5 242.4 580.5 243.4 582.0C244.4 583.5 245.2 585.3 246.1 588.2C247.0 591.1 247.7 595.7 248.7 599.6C249.7 603.5 251.0 608.7 252.2 611.8C253.4 614.9 254.7 616.8 255.7 618.0C256.7 619.2 257.1 619.4 258.3 619.2C259.5 619.1 261.2 617.8 262.7 617.1C264.2 616.4 265.8 614.9 267.1 615.0C268.4 615.1 269.4 616.2 270.6 618.0C271.8 619.8 273.1 623.7 274.1 625.8C275.1 627.9 276.0 629.8 276.7 630.8C277.4 631.8 277.8 632.0 278.5 631.5C279.2 631.0 279.9 630.9 280.8 627.6C281.7 624.3 282.8 617.2 283.7 611.8C284.6 606.4 285.4 600.3 286.2 595.2C287.0 590.1 287.5 585.2 288.3 581.0C289.1 576.8 290.1 572.5 291.0 570.0C291.9 567.5 292.8 566.7 294.0 566.3C295.2 565.9 297.0 567.2 298.1 567.5C299.2 567.8 299.7 568.8 300.7 568.2C301.7 567.6 303.1 566.0 304.3 564.1C305.5 562.2 306.7 559.8 307.8 557.0C308.9 554.2 310.0 550.2 310.9 547.4C311.8 544.6 312.3 541.8 313.0 540.4C313.7 539.0 314.4 538.6 315.1 538.7C315.8 538.9 316.6 539.4 317.4 541.3C318.2 543.2 319.1 545.6 320.0 550.0C320.9 554.4 321.8 561.8 322.7 567.6C323.6 573.5 324.6 580.5 325.3 585.1C326.0 589.7 326.3 592.1 326.8 595.0C327.3 597.9 327.4 599.6 328.2 602.5C329.0 605.4 330.4 608.8 331.5 612.2C332.6 615.6 334.0 620.2 335.0 622.7C336.0 625.2 336.7 626.4 337.7 627.4C338.7 628.4 340.0 627.8 341.2 628.8C342.4 629.8 343.7 631.3 344.7 633.2C345.7 635.1 346.4 637.1 347.3 640.2C348.2 643.3 349.1 648.2 349.9 651.6C350.7 655.0 351.4 658.5 352.0 660.3C352.6 662.0 352.9 662.2 353.4 662.1C353.9 662.0 354.5 661.1 355.2 659.5C355.9 657.9 356.9 655.0 357.8 652.5C358.7 650.0 359.7 647.4 360.4 644.6C361.1 641.8 361.6 639.6 362.2 635.8C362.8 632.0 363.3 627.0 363.9 621.8C364.5 616.5 365.2 608.8 365.7 604.3C366.2 599.8 366.5 597.6 367.0 595.0C367.5 592.4 367.9 590.7 368.7 588.6C369.5 586.5 370.8 584.7 371.7 582.4C372.6 580.1 373.5 577.1 374.4 574.6C375.3 572.1 376.0 569.0 377.0 567.6C378.0 566.2 379.5 567.2 380.5 566.3C381.5 565.4 382.2 564.4 383.1 562.3C384.0 560.2 384.8 557.6 385.7 553.5C386.6 549.4 387.7 542.5 388.4 537.8C389.1 533.1 389.5 528.5 390.1 525.5C390.7 522.5 391.6 520.3 392.2 519.9C392.8 519.5 393.4 520.9 394.0 522.9C394.6 524.9 395.0 529.6 395.7 531.6C396.4 533.6 397.3 534.0 398.0 534.6C398.7 535.2 399.2 534.0 399.8 535.5C400.4 537.0 401.1 539.2 401.7 543.5C402.3 547.8 402.9 554.1 403.6 561.0C404.3 567.9 405.3 579.4 405.9 585.1C406.5 590.8 406.8 592.5 407.3 595.0C407.8 597.5 408.1 598.8 408.7 600.0C409.3 601.2 410.4 600.8 411.1 602.0C411.9 603.2 412.4 604.6 413.2 607.0C414.0 609.4 415.2 614.4 416.0 616.5C416.8 618.6 417.3 619.1 418.1 619.7C418.9 620.3 420.1 618.7 420.9 619.9C421.7 621.1 422.2 623.5 423.0 627.0C423.8 630.5 424.8 636.1 425.7 641.1C426.6 646.1 427.6 652.5 428.3 656.8C429.0 661.1 429.6 664.6 430.0 666.8C430.4 669.0 430.6 669.5 430.8 670.2C431.1 670.9 431.2 671.1 431.5 671.0C431.8 670.9 432.0 670.5 432.3 669.8C432.6 669.1 432.8 669.0 433.2 666.8C433.6 664.6 434.3 660.1 434.9 656.8C435.5 653.5 436.0 649.0 436.7 647.2C437.4 645.5 438.4 647.3 439.1 646.3C439.8 645.3 440.3 644.0 440.9 641.1C441.5 638.2 442.0 634.1 442.7 628.8C443.4 623.5 444.2 615.1 444.9 609.5C445.6 603.9 446.3 598.0 446.9 595.0C447.5 592.0 447.7 592.6 448.4 591.8C449.1 591.0 450.2 591.8 451.1 590.1C452.0 588.4 452.8 584.6 453.7 581.6C454.6 578.6 455.5 574.2 456.3 571.9C457.1 569.6 457.6 568.5 458.4 567.6C459.2 566.7 460.2 567.8 461.2 566.3C462.2 564.8 463.3 561.2 464.2 558.8C465.1 556.4 465.9 555.0 466.8 551.8C467.7 548.6 468.7 542.4 469.5 539.5C470.3 536.6 470.9 534.7 471.6 534.3C472.3 533.9 473.1 534.9 473.8 536.9C474.5 538.9 475.0 543.4 475.6 546.5C476.2 549.6 476.6 553.4 477.3 555.3C478.0 557.2 479.3 556.1 480.0 557.9C480.7 559.6 481.1 562.4 481.7 565.8C482.3 569.2 482.9 574.0 483.5 578.1C484.1 582.2 484.8 587.5 485.2 590.3C485.6 593.1 485.8 593.0 486.2 595.0C486.6 597.0 487.0 600.5 487.6 602.5C488.2 604.5 489.0 605.9 489.6 606.9C490.2 607.9 490.8 607.4 491.4 608.7C492.0 610.0 492.8 612.9 493.5 614.8C494.2 616.7 494.9 618.8 495.7 620.0C496.5 621.2 497.5 620.9 498.4 622.1C499.3 623.3 500.1 625.5 501.0 627.0C501.9 628.5 502.8 630.3 503.6 631.1C504.4 631.9 504.9 632.0 505.6 632.0C506.3 632.0 507.2 631.1 508.0 631.0C508.8 630.9 509.3 632.1 510.2 631.2C511.1 630.3 512.2 627.9 513.1 625.8C514.0 623.7 515.1 620.7 515.8 618.8C516.5 616.9 516.7 615.2 517.5 614.6C518.3 614.0 519.8 615.7 520.7 615.2C521.6 614.7 522.0 613.8 522.8 611.8C523.6 609.8 524.7 605.9 525.4 603.1C526.1 600.3 526.6 598.4 527.2 595.2C527.8 592.0 528.2 587.6 528.9 583.8C529.6 580.0 530.6 575.2 531.5 572.4C532.4 569.6 533.3 568.3 534.2 567.2C535.1 566.1 536.1 565.6 537.1 565.9C538.1 566.2 539.2 568.3 540.3 568.9C541.3 569.5 542.3 569.4 543.4 569.4C544.5 569.4 545.9 568.2 547.0 568.6C548.1 569.0 548.8 569.9 549.9 571.5C551.0 573.1 552.2 576.1 553.4 578.5C554.6 580.9 555.9 584.2 556.9 585.6C557.9 587.0 558.7 586.1 559.6 587.0C560.5 587.9 561.2 589.9 562.2 590.8C563.2 591.7 564.5 592.0 565.7 592.6C566.9 593.2 568.2 593.0 569.2 594.3C570.2 595.6 570.8 598.5 571.8 600.4C572.8 602.3 574.0 605.4 575.0 605.7C576.0 606.0 577.0 603.8 578.0 602.2C579.0 600.7 580.0 597.4 580.9 596.4C581.8 595.4 582.4 595.3 583.2 596.1C584.0 596.9 584.8 599.8 585.8 601.3C586.8 602.8 588.0 605.3 589.0 605.3C590.0 605.3 590.9 602.7 592.0 601.3C593.1 599.9 594.3 598.1 595.5 596.9C596.7 595.7 597.8 595.3 599.0 594.3C600.2 593.3 601.5 591.9 602.5 590.8C603.5 589.7 604.3 587.6 605.1 587.8C605.9 588.0 606.6 590.5 607.5 592.0C608.4 593.5 609.4 597.2 610.3 597.0C611.2 596.8 612.0 592.7 613.0 590.6C614.0 588.5 615.0 584.6 616.0 584.2C617.0 583.8 618.0 586.3 619.0 588.0C620.0 589.7 621.0 592.9 621.9 594.5C622.8 596.1 623.4 596.8 624.3 597.4C625.2 598.0 625.9 598.2 627.2 598.2C628.5 598.2 630.4 597.5 631.9 597.4C633.4 597.3 635.3 597.8 636.5 597.4C637.7 597.0 638.1 596.2 638.9 595.0C639.7 593.8 640.5 591.7 641.2 590.4C641.9 589.1 642.5 588.1 643.3 587.4C644.1 586.7 644.9 586.7 645.9 586.3C646.9 585.9 648.1 584.9 649.1 585.1C650.1 585.3 650.9 585.9 651.7 587.4C652.5 588.9 653.4 592.0 654.1 593.9C654.8 595.8 655.3 597.5 655.8 598.5C656.3 599.5 656.6 599.9 657.2 599.7C657.8 599.5 658.5 598.4 659.3 597.4C660.1 596.4 661.2 594.8 662.2 593.9C663.2 593.0 664.0 592.3 665.1 591.8C666.2 591.3 667.5 591.0 668.7 591.0C669.9 591.0 671.0 592.1 672.2 592.1C673.4 592.1 674.5 591.3 675.7 591.0C677.0 590.7 678.4 590.3 679.7 590.1C681.1 589.9 683.1 589.8 683.8 589.8" stroke="#0000ff" stroke-width="3.0"/>
<path d="M84.9 594.9C104.1 594.9 166.5 594.9 200.0 594.9C233.5 594.9 271.2 595.0 286.0 594.9C300.8 594.8 288.0 594.3 289.0 594.4C290.0 594.5 290.8 595.2 292.0 595.3C293.2 595.4 278.0 595.0 296.0 594.9C314.0 594.8 366.0 594.8 400.0 594.8C434.0 594.8 466.7 594.9 500.0 594.9C533.3 594.9 569.3 594.9 600.0 594.9C630.7 594.9 670.3 594.8 684.4 594.8" stroke="#3778af" stroke-width="2.4"/>
</g>
<line x1="84.5" y1="594.95" x2="683.7" y2="594.95" stroke="#000" stroke-opacity="0.62" stroke-width="1"/>
<rect x="84.50" y="517.00" width="599.20" height="156.00" fill="none" stroke="#505050" stroke-width="1"/>
<path d="M84.50 556.00h7.3M683.70 556.00h-7.3" stroke="#505050" stroke-width="1" fill="none"/>
<path d="M84.50 634.00h7.3M683.70 634.00h-7.3" stroke="#505050" stroke-width="1" fill="none"/>
<text x="84.90" y="694.60" font-size="22.8" text-anchor="middle" textLength="11.2" lengthAdjust="spacingAndGlyphs">0</text>
<path d="M199.73 673.00v-7.3M199.73 517.00v7.3" stroke="#505050" stroke-width="1" fill="none"/>
<text x="200.13" y="694.60" font-size="22.8" text-anchor="middle" textLength="22.2" lengthAdjust="spacingAndGlyphs">10</text>
<path d="M314.96 673.00v-7.3M314.96 517.00v7.3" stroke="#505050" stroke-width="1" fill="none"/>
<text x="315.36" y="694.60" font-size="22.8" text-anchor="middle" textLength="22.2" lengthAdjust="spacingAndGlyphs">20</text>
<path d="M430.19 673.00v-7.3M430.19 517.00v7.3" stroke="#505050" stroke-width="1" fill="none"/>
<text x="430.59" y="694.60" font-size="22.8" text-anchor="middle" textLength="22.2" lengthAdjust="spacingAndGlyphs">30</text>
<path d="M545.42 673.00v-7.3M545.42 517.00v7.3" stroke="#505050" stroke-width="1" fill="none"/>
<text x="545.82" y="694.60" font-size="22.8" text-anchor="middle" textLength="22.2" lengthAdjust="spacingAndGlyphs">40</text>
<path d="M660.65 673.00v-7.3M660.65 517.00v7.3" stroke="#505050" stroke-width="1" fill="none"/>
<text x="661.05" y="694.60" font-size="22.8" text-anchor="middle" textLength="22.2" lengthAdjust="spacingAndGlyphs">50</text>
<text x="82.00" y="523.00" font-size="22.8" text-anchor="end" textLength="39.8" lengthAdjust="spacingAndGlyphs">0.04</text>
<text x="82.00" y="562.00" font-size="22.8" text-anchor="end" textLength="39.8" lengthAdjust="spacingAndGlyphs">0.02</text>
<text x="82.00" y="601.00" font-size="22.8" text-anchor="end" textLength="11.2" lengthAdjust="spacingAndGlyphs">0</text>
<text x="82.00" y="640.00" font-size="22.8" text-anchor="end" textLength="39.8" lengthAdjust="spacingAndGlyphs">0.02</text>
<text x="26.20" y="642.60" font-size="26" textLength="16.2" lengthAdjust="spacingAndGlyphs">−</text>
<text x="82.00" y="679.00" font-size="22.8" text-anchor="end" textLength="39.8" lengthAdjust="spacingAndGlyphs">0.04</text>
<text x="26.20" y="681.60" font-size="26" textLength="16.2" lengthAdjust="spacingAndGlyphs">−</text>
<text transform="translate(20.20 637.50) rotate(-90)" font-size="25.8" font-style="italic">J</text>
<text transform="translate(21.60 625.80) rotate(-90)" font-size="17.5" textLength="17.8" lengthAdjust="spacingAndGlyphs" font-style="italic">zx</text>
<text transform="translate(20.40 600.70) rotate(-90)" font-size="25" textLength="50.6" lengthAdjust="spacingAndGlyphs" stroke="#000" stroke-width="0.25">[a.u.]</text>
<text x="506.60" y="541.80" font-size="25.4" textLength="17.0" lengthAdjust="spacingAndGlyphs" stroke="#000" stroke-width="0.25">w</text>
<text x="529.60" y="541.80" font-size="25.2" textLength="44.8" lengthAdjust="spacingAndGlyphs" stroke="#000" stroke-width="0.25">SOC</text>
<text x="480.90" y="566.50" font-size="25.4" textLength="15.4" lengthAdjust="spacingAndGlyphs" stroke="#000" stroke-width="0.25">w</text>
<text x="500.40" y="568.30" font-size="27" textLength="10.4" lengthAdjust="spacingAndGlyphs" stroke="#000" stroke-width="0.25">/</text>
<text x="512.20" y="566.50" font-size="25.4" textLength="12.2" lengthAdjust="spacingAndGlyphs" stroke="#000" stroke-width="0.25">o</text>
<text x="529.60" y="566.50" font-size="25.2" textLength="44.8" lengthAdjust="spacingAndGlyphs" stroke="#000" stroke-width="0.25">SOC</text>
<line x1="589.1" y1="536.1" x2="654.7" y2="536.1" stroke="#0000ff" stroke-width="3.1"/>
<line x1="589.1" y1="560.5" x2="654.7" y2="560.5" stroke="#3778af" stroke-width="2.8"/>
<text font-family="'DejaVu Sans','Liberation Sans',sans-serif" font-weight="bold"><tspan x="-0.40" y="509.30" font-size="28">c</tspan><tspan x="15.50" y="507.90" font-size="26.4">)</tspan></text>
</g>
<text x="384.00" y="726.60" font-size="25.2" text-anchor="middle" textLength="84.2" lengthAdjust="spacingAndGlyphs" stroke="#000" stroke-width="0.25">Time [fs]</text>
</svg>
</body></html>
